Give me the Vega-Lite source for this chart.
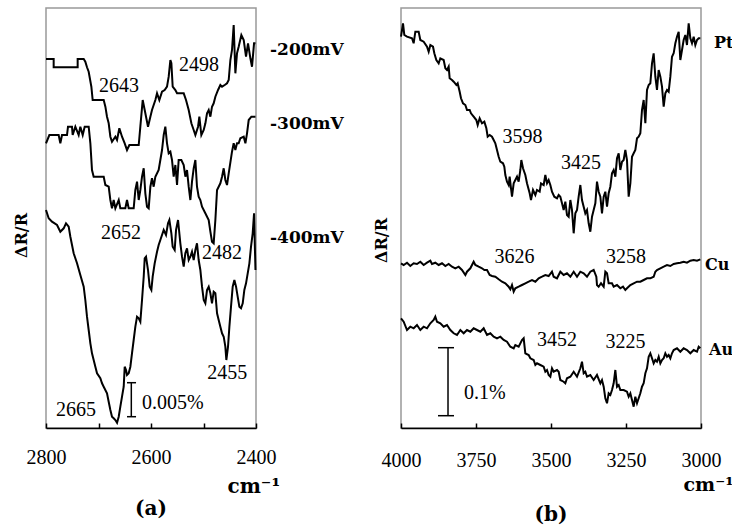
{
"$schema":"https://vega.github.io/schema/vega-lite/v6.json",
"background":"white",
"padding":{"left":12,"top":7,"right":0,"bottom":0},
"bounds":"flush",
"spacing":145,
"config":{"view":{"stroke":"#999999","strokeWidth":1.5},"font":"Liberation Serif","axis":{"labelFont":"Liberation Serif","titleFont":"DejaVu Serif","labelColor":"black","titleColor":"black","grid":false},"title":{"font":"DejaVu Serif","color":"black"},"text":{"font":"Liberation Serif","color":"black"}},
"datasets":{
"traceA":[
{"s":"-200mV","wn":2800,"h":369},{"s":"-200mV","wn":2785.4,"h":369},{"s":"-200mV","wn":2785.4,"h":360.7},{"s":"-200mV","wn":2739.7,"h":360.7},{"s":"-200mV","wn":2739.7,"h":369},{"s":"-200mV","wn":2728.2,"h":369},{"s":"-200mV","wn":2725.1,"h":366.3},{"s":"-200mV","wn":2721.9,"h":360.7},{"s":"-200mV","wn":2718.7,"h":356.3},{"s":"-200mV","wn":2713.6,"h":341.3},{"s":"-200mV","wn":2711.1,"h":328},{"s":"-200mV","wn":2690.1,"h":328},{"s":"-200mV","wn":2686.9,"h":321.3},{"s":"-200mV","wn":2683.8,"h":311.3},{"s":"-200mV","wn":2680.6,"h":304.7},{"s":"-200mV","wn":2677.4,"h":291.3},{"s":"-200mV","wn":2674.3,"h":286.3},{"s":"-200mV","wn":2667.9,"h":291.3},{"s":"-200mV","wn":2664.7,"h":288},{"s":"-200mV","wn":2660.3,"h":299.7},{"s":"-200mV","wn":2655.2,"h":291.3},{"s":"-200mV","wn":2650.1,"h":284.7},{"s":"-200mV","wn":2645.7,"h":278},{"s":"-200mV","wn":2641.2,"h":283},{"s":"-200mV","wn":2623.4,"h":283},{"s":"-200mV","wn":2620.3,"h":301.3},{"s":"-200mV","wn":2615.8,"h":328},{"s":"-200mV","wn":2612,"h":318},{"s":"-200mV","wn":2605.7,"h":301.3},{"s":"-200mV","wn":2601.2,"h":311.3},{"s":"-200mV","wn":2598.1,"h":318},{"s":"-200mV","wn":2591.7,"h":328},{"s":"-200mV","wn":2588.5,"h":334.7},{"s":"-200mV","wn":2584.1,"h":328},{"s":"-200mV","wn":2579,"h":336.3},{"s":"-200mV","wn":2574,"h":338},{"s":"-200mV","wn":2569.5,"h":341.3},{"s":"-200mV","wn":2566.3,"h":351.3},{"s":"-200mV","wn":2563.1,"h":368},{"s":"-200mV","wn":2561.2,"h":364.7},{"s":"-200mV","wn":2558.7,"h":341.3},{"s":"-200mV","wn":2553.6,"h":338},{"s":"-200mV","wn":2550.4,"h":334.7},{"s":"-200mV","wn":2537.7,"h":334.7},{"s":"-200mV","wn":2533.3,"h":328},{"s":"-200mV","wn":2528.2,"h":318},{"s":"-200mV","wn":2523.1,"h":304.7},{"s":"-200mV","wn":2518.7,"h":298},{"s":"-200mV","wn":2515.5,"h":293},{"s":"-200mV","wn":2510.4,"h":301.3},{"s":"-200mV","wn":2507.9,"h":311.3},{"s":"-200mV","wn":2504.1,"h":293},{"s":"-200mV","wn":2499.6,"h":298},{"s":"-200mV","wn":2496.4,"h":304.7},{"s":"-200mV","wn":2493.3,"h":314.7},{"s":"-200mV","wn":2490.1,"h":318},{"s":"-200mV","wn":2486.9,"h":311.3},{"s":"-200mV","wn":2483.8,"h":321.3},{"s":"-200mV","wn":2480.6,"h":324.7},{"s":"-200mV","wn":2477.4,"h":331.3},{"s":"-200mV","wn":2472.3,"h":338},{"s":"-200mV","wn":2467.9,"h":343},{"s":"-200mV","wn":2464.7,"h":341.3},{"s":"-200mV","wn":2459.6,"h":343},{"s":"-200mV","wn":2455.2,"h":344.7},{"s":"-200mV","wn":2452,"h":348},{"s":"-200mV","wn":2448.8,"h":368},{"s":"-200mV","wn":2445.7,"h":378},{"s":"-200mV","wn":2442.5,"h":403},{"s":"-200mV","wn":2439.3,"h":354.7},{"s":"-200mV","wn":2436.2,"h":374.7},{"s":"-200mV","wn":2433,"h":381.3},{"s":"-200mV","wn":2427.9,"h":393},{"s":"-200mV","wn":2423.4,"h":388},{"s":"-200mV","wn":2419,"h":371.3},{"s":"-200mV","wn":2415.2,"h":384.7},{"s":"-200mV","wn":2410.7,"h":369.7},{"s":"-200mV","wn":2407.6,"h":361.3},{"s":"-200mV","wn":2403.7,"h":384.7},{"s":"-200mV","wn":2401,"h":384.7},
{"s":"-300mV","wn":2800,"h":284.7},{"s":"-300mV","wn":2793.6,"h":293},{"s":"-300mV","wn":2775.9,"h":293},{"s":"-300mV","wn":2772.7,"h":284.7},{"s":"-300mV","wn":2769.5,"h":293},{"s":"-300mV","wn":2760,"h":293},{"s":"-300mV","wn":2758.1,"h":301.3},{"s":"-300mV","wn":2750.5,"h":301.3},{"s":"-300mV","wn":2749.2,"h":293},{"s":"-300mV","wn":2744.1,"h":301.3},{"s":"-300mV","wn":2737.8,"h":293},{"s":"-300mV","wn":2734.6,"h":301.3},{"s":"-300mV","wn":2730.1,"h":293},{"s":"-300mV","wn":2726.3,"h":301.3},{"s":"-300mV","wn":2718.7,"h":301.3},{"s":"-300mV","wn":2715.5,"h":284.7},{"s":"-300mV","wn":2712.4,"h":258},{"s":"-300mV","wn":2709.2,"h":251.3},{"s":"-300mV","wn":2690.1,"h":251.3},{"s":"-300mV","wn":2686.9,"h":243},{"s":"-300mV","wn":2680.6,"h":241.3},{"s":"-300mV","wn":2677.4,"h":228},{"s":"-300mV","wn":2674.3,"h":219.7},{"s":"-300mV","wn":2671.1,"h":228},{"s":"-300mV","wn":2667.9,"h":219.7},{"s":"-300mV","wn":2661.5,"h":228},{"s":"-300mV","wn":2658.4,"h":219.7},{"s":"-300mV","wn":2648.9,"h":219.7},{"s":"-300mV","wn":2645.7,"h":228},{"s":"-300mV","wn":2642.5,"h":219.7},{"s":"-300mV","wn":2633,"h":219.7},{"s":"-300mV","wn":2629.8,"h":238},{"s":"-300mV","wn":2626.6,"h":246.3},{"s":"-300mV","wn":2623.4,"h":228},{"s":"-300mV","wn":2620.3,"h":238},{"s":"-300mV","wn":2617.1,"h":251.3},{"s":"-300mV","wn":2613.9,"h":259.7},{"s":"-300mV","wn":2610.8,"h":234.7},{"s":"-300mV","wn":2607.6,"h":221.3},{"s":"-300mV","wn":2604.4,"h":219.7},{"s":"-300mV","wn":2601.2,"h":241.3},{"s":"-300mV","wn":2598.1,"h":249.7},{"s":"-300mV","wn":2594.9,"h":241.3},{"s":"-300mV","wn":2591.7,"h":251.3},{"s":"-300mV","wn":2585.4,"h":258},{"s":"-300mV","wn":2582.2,"h":268},{"s":"-300mV","wn":2579,"h":278},{"s":"-300mV","wn":2575.8,"h":293},{"s":"-300mV","wn":2572.7,"h":301.3},{"s":"-300mV","wn":2569.5,"h":284.7},{"s":"-300mV","wn":2566.3,"h":274.7},{"s":"-300mV","wn":2563.1,"h":276.3},{"s":"-300mV","wn":2560,"h":268},{"s":"-300mV","wn":2556.8,"h":251.3},{"s":"-300mV","wn":2553.6,"h":263},{"s":"-300mV","wn":2550.4,"h":243},{"s":"-300mV","wn":2547.3,"h":268},{"s":"-300mV","wn":2542.2,"h":268},{"s":"-300mV","wn":2537.7,"h":263},{"s":"-300mV","wn":2534.5,"h":251.3},{"s":"-300mV","wn":2531.4,"h":258},{"s":"-300mV","wn":2528.2,"h":241.3},{"s":"-300mV","wn":2525,"h":228},{"s":"-300mV","wn":2521.9,"h":246.3},{"s":"-300mV","wn":2518.7,"h":259.7},{"s":"-300mV","wn":2515.5,"h":268},{"s":"-300mV","wn":2512.4,"h":241.3},{"s":"-300mV","wn":2509.2,"h":231.3},{"s":"-300mV","wn":2506,"h":228},{"s":"-300mV","wn":2502.8,"h":221.3},{"s":"-300mV","wn":2496.5,"h":214.7},{"s":"-300mV","wn":2490.1,"h":208},{"s":"-300mV","wn":2486.9,"h":196.3},{"s":"-300mV","wn":2483.8,"h":186.3},{"s":"-300mV","wn":2480.6,"h":184.7},{"s":"-300mV","wn":2477.4,"h":208},{"s":"-300mV","wn":2474.2,"h":238},{"s":"-300mV","wn":2471.1,"h":241.3},{"s":"-300mV","wn":2467.9,"h":244.7},{"s":"-300mV","wn":2464.7,"h":251.3},{"s":"-300mV","wn":2461.5,"h":259.7},{"s":"-300mV","wn":2458.4,"h":248},{"s":"-300mV","wn":2455.2,"h":243},{"s":"-300mV","wn":2452,"h":254.7},{"s":"-300mV","wn":2445.7,"h":276.3},{"s":"-300mV","wn":2442.5,"h":284.7},{"s":"-300mV","wn":2439.3,"h":278},{"s":"-300mV","wn":2436.2,"h":284.7},{"s":"-300mV","wn":2433,"h":284.7},{"s":"-300mV","wn":2429.8,"h":289.7},{"s":"-300mV","wn":2423.4,"h":291.3},{"s":"-300mV","wn":2420.2,"h":284.7},{"s":"-300mV","wn":2417.1,"h":294.7},{"s":"-300mV","wn":2413.9,"h":308},{"s":"-300mV","wn":2408.8,"h":311.3},{"s":"-300mV","wn":2401,"h":311.3},
{"s":"-400mV","wn":2800,"h":218},{"s":"-400mV","wn":2794.9,"h":209.7},{"s":"-400mV","wn":2788.6,"h":206.3},{"s":"-400mV","wn":2779,"h":203},{"s":"-400mV","wn":2772.7,"h":196.3},{"s":"-400mV","wn":2766.3,"h":199.7},{"s":"-400mV","wn":2761.9,"h":204.7},{"s":"-400mV","wn":2756.8,"h":201.3},{"s":"-400mV","wn":2753.6,"h":191.3},{"s":"-400mV","wn":2747.3,"h":174.7},{"s":"-400mV","wn":2740.9,"h":164.7},{"s":"-400mV","wn":2734.6,"h":153},{"s":"-400mV","wn":2728.2,"h":141.3},{"s":"-400mV","wn":2725.1,"h":128},{"s":"-400mV","wn":2721.9,"h":111.3},{"s":"-400mV","wn":2718.7,"h":98},{"s":"-400mV","wn":2715.5,"h":84.7},{"s":"-400mV","wn":2712.4,"h":74.7},{"s":"-400mV","wn":2709.2,"h":68},{"s":"-400mV","wn":2706,"h":61.3},{"s":"-400mV","wn":2702.8,"h":54.7},{"s":"-400mV","wn":2696.5,"h":49.7},{"s":"-400mV","wn":2693.3,"h":44.7},{"s":"-400mV","wn":2690.1,"h":41.3},{"s":"-400mV","wn":2683.8,"h":34.7},{"s":"-400mV","wn":2680.6,"h":26.3},{"s":"-400mV","wn":2677.4,"h":18},{"s":"-400mV","wn":2674.3,"h":11.3},{"s":"-400mV","wn":2671.1,"h":9.7},{"s":"-400mV","wn":2667.9,"h":8},{"s":"-400mV","wn":2664.7,"h":5.3},{"s":"-400mV","wn":2661.5,"h":11.3},{"s":"-400mV","wn":2658.4,"h":21.3},{"s":"-400mV","wn":2655.2,"h":31.3},{"s":"-400mV","wn":2652,"h":41.3},{"s":"-400mV","wn":2650.1,"h":61.3},{"s":"-400mV","wn":2647.6,"h":58},{"s":"-400mV","wn":2645.7,"h":53},{"s":"-400mV","wn":2642.5,"h":54.7},{"s":"-400mV","wn":2639.3,"h":61.3},{"s":"-400mV","wn":2636.2,"h":74.7},{"s":"-400mV","wn":2633,"h":88},{"s":"-400mV","wn":2629.8,"h":101.3},{"s":"-400mV","wn":2626.6,"h":111.3},{"s":"-400mV","wn":2623.4,"h":109.7},{"s":"-400mV","wn":2620.3,"h":106.3},{"s":"-400mV","wn":2617.1,"h":128},{"s":"-400mV","wn":2613.9,"h":151.3},{"s":"-400mV","wn":2612,"h":169.7},{"s":"-400mV","wn":2609.5,"h":171.3},{"s":"-400mV","wn":2605.7,"h":158},{"s":"-400mV","wn":2602.5,"h":141.3},{"s":"-400mV","wn":2599.3,"h":138},{"s":"-400mV","wn":2596.8,"h":151.3},{"s":"-400mV","wn":2593,"h":164.7},{"s":"-400mV","wn":2588.5,"h":176.3},{"s":"-400mV","wn":2585.4,"h":183},{"s":"-400mV","wn":2582.2,"h":188},{"s":"-400mV","wn":2575.8,"h":198},{"s":"-400mV","wn":2571.4,"h":193},{"s":"-400mV","wn":2567.6,"h":204.7},{"s":"-400mV","wn":2565,"h":208},{"s":"-400mV","wn":2561.2,"h":194.7},{"s":"-400mV","wn":2558.7,"h":181.3},{"s":"-400mV","wn":2554.9,"h":178},{"s":"-400mV","wn":2552.3,"h":198},{"s":"-400mV","wn":2548.5,"h":208},{"s":"-400mV","wn":2544.1,"h":184.7},{"s":"-400mV","wn":2540.9,"h":171.3},{"s":"-400mV","wn":2537.7,"h":161.3},{"s":"-400mV","wn":2534.6,"h":174.7},{"s":"-400mV","wn":2531.4,"h":179.7},{"s":"-400mV","wn":2528.2,"h":168},{"s":"-400mV","wn":2525,"h":171.3},{"s":"-400mV","wn":2521.9,"h":176.3},{"s":"-400mV","wn":2518.7,"h":168},{"s":"-400mV","wn":2515.5,"h":178},{"s":"-400mV","wn":2512.4,"h":184.7},{"s":"-400mV","wn":2509.2,"h":168},{"s":"-400mV","wn":2506,"h":158},{"s":"-400mV","wn":2502.8,"h":141.3},{"s":"-400mV","wn":2499.6,"h":128},{"s":"-400mV","wn":2496.5,"h":124.7},{"s":"-400mV","wn":2493.3,"h":138},{"s":"-400mV","wn":2490.1,"h":141.3},{"s":"-400mV","wn":2486.9,"h":134.7},{"s":"-400mV","wn":2483.8,"h":124.7},{"s":"-400mV","wn":2480.6,"h":136.3},{"s":"-400mV","wn":2477.4,"h":134.7},{"s":"-400mV","wn":2474.2,"h":114.7},{"s":"-400mV","wn":2471.1,"h":108},{"s":"-400mV","wn":2467.9,"h":101.3},{"s":"-400mV","wn":2464.7,"h":94.7},{"s":"-400mV","wn":2461.5,"h":91.3},{"s":"-400mV","wn":2458.4,"h":81.3},{"s":"-400mV","wn":2456.5,"h":68},{"s":"-400mV","wn":2453.3,"h":81.3},{"s":"-400mV","wn":2450.7,"h":101.3},{"s":"-400mV","wn":2447.6,"h":121.3},{"s":"-400mV","wn":2444.4,"h":141.3},{"s":"-400mV","wn":2441.2,"h":148},{"s":"-400mV","wn":2438,"h":141.3},{"s":"-400mV","wn":2434.9,"h":131.3},{"s":"-400mV","wn":2431.7,"h":121.3},{"s":"-400mV","wn":2428.5,"h":119.7},{"s":"-400mV","wn":2425.3,"h":124.7},{"s":"-400mV","wn":2422.2,"h":138},{"s":"-400mV","wn":2419,"h":144.7},{"s":"-400mV","wn":2415.8,"h":154.7},{"s":"-400mV","wn":2412.6,"h":164.7},{"s":"-400mV","wn":2409.5,"h":181.3},{"s":"-400mV","wn":2406.3,"h":194.7},{"s":"-400mV","wn":2403.7,"h":214.7},{"s":"-400mV","wn":2402.5,"h":188},{"s":"-400mV","wn":2401,"h":158}
],
"numA":[{"wn":2661,"h":342,"t":"2643"},{"wn":2508.5,"h":363,"t":"2498"},{"wn":2657,"h":195,"t":"2652"},{"wn":2464.7,"h":175,"t":"2482"},{"wn":2455,"h":55,"t":"2455"},{"wn":2743,"h":18,"t":"2665"}],
"pctA":[{"wn":2617,"h":25,"t":"0.005%"}],
"labA":[{"wn":2373.3,"h":378,"t":"-200mV"},{"wn":2373.3,"h":304,"t":"-300mV"},{"wn":2373.3,"h":190,"t":"-400mV"}],
"barA":[{"wn":2637.5,"h":11.3,"h2":45.3}],
"capA":[{"wn":2645.7,"wn2":2628.5,"h":11.3},{"wn":2645.7,"wn2":2628.5,"h":45.3}],
"traceB":[
{"s":"Pt","wn":4000,"h":391.3},{"s":"Pt","wn":3993.3,"h":404.7},{"s":"Pt","wn":3988.9,"h":393},{"s":"Pt","wn":3980,"h":391.3},{"s":"Pt","wn":3963.3,"h":389.7},{"s":"Pt","wn":3957.8,"h":384.7},{"s":"Pt","wn":3952.2,"h":396.3},{"s":"Pt","wn":3941.1,"h":396.3},{"s":"Pt","wn":3935.6,"h":388},{"s":"Pt","wn":3924.4,"h":386.3},{"s":"Pt","wn":3913.3,"h":381.3},{"s":"Pt","wn":3907.8,"h":376.3},{"s":"Pt","wn":3902.2,"h":383},{"s":"Pt","wn":3893.3,"h":381.3},{"s":"Pt","wn":3888.9,"h":374.7},{"s":"Pt","wn":3882.2,"h":368},{"s":"Pt","wn":3874.4,"h":364.7},{"s":"Pt","wn":3868.9,"h":369.7},{"s":"Pt","wn":3857.8,"h":368},{"s":"Pt","wn":3852.2,"h":359.7},{"s":"Pt","wn":3846.7,"h":358},{"s":"Pt","wn":3841.1,"h":361.3},{"s":"Pt","wn":3837.8,"h":349.7},{"s":"Pt","wn":3830,"h":348},{"s":"Pt","wn":3824.4,"h":346.3},{"s":"Pt","wn":3815.5,"h":343},{"s":"Pt","wn":3811.1,"h":344.7},{"s":"Pt","wn":3804.4,"h":336.3},{"s":"Pt","wn":3800,"h":329.7},{"s":"Pt","wn":3793.3,"h":324.7},{"s":"Pt","wn":3785.5,"h":323},{"s":"Pt","wn":3780,"h":318},{"s":"Pt","wn":3771.1,"h":318},{"s":"Pt","wn":3766.7,"h":314.7},{"s":"Pt","wn":3757.8,"h":311.3},{"s":"Pt","wn":3748.9,"h":308},{"s":"Pt","wn":3744.4,"h":303},{"s":"Pt","wn":3737.8,"h":309.7},{"s":"Pt","wn":3730,"h":304.7},{"s":"Pt","wn":3722.2,"h":306.3},{"s":"Pt","wn":3715.5,"h":299.7},{"s":"Pt","wn":3711.1,"h":291.3},{"s":"Pt","wn":3704.4,"h":293},{"s":"Pt","wn":3696.7,"h":291.3},{"s":"Pt","wn":3691.1,"h":288},{"s":"Pt","wn":3685.6,"h":284.7},{"s":"Pt","wn":3680,"h":278},{"s":"Pt","wn":3674.4,"h":271.3},{"s":"Pt","wn":3668.9,"h":266.3},{"s":"Pt","wn":3660,"h":264.7},{"s":"Pt","wn":3655.6,"h":261.3},{"s":"Pt","wn":3652.2,"h":253},{"s":"Pt","wn":3646.7,"h":246.3},{"s":"Pt","wn":3641.1,"h":243},{"s":"Pt","wn":3637.8,"h":251.3},{"s":"Pt","wn":3633.3,"h":239.7},{"s":"Pt","wn":3630,"h":231.3},{"s":"Pt","wn":3624.4,"h":244.7},{"s":"Pt","wn":3618.9,"h":248},{"s":"Pt","wn":3613.3,"h":251.3},{"s":"Pt","wn":3607.8,"h":246.3},{"s":"Pt","wn":3602.2,"h":258},{"s":"Pt","wn":3598.9,"h":268},{"s":"Pt","wn":3593.3,"h":259.7},{"s":"Pt","wn":3585.6,"h":253},{"s":"Pt","wn":3580,"h":244.7},{"s":"Pt","wn":3571.1,"h":234.7},{"s":"Pt","wn":3566.7,"h":228},{"s":"Pt","wn":3560,"h":238},{"s":"Pt","wn":3552.2,"h":233},{"s":"Pt","wn":3546.7,"h":238},{"s":"Pt","wn":3537.8,"h":236.3},{"s":"Pt","wn":3533.3,"h":244.7},{"s":"Pt","wn":3524.4,"h":243},{"s":"Pt","wn":3518.9,"h":253},{"s":"Pt","wn":3513.3,"h":244.7},{"s":"Pt","wn":3507.8,"h":248},{"s":"Pt","wn":3502.2,"h":243},{"s":"Pt","wn":3496.7,"h":236.3},{"s":"Pt","wn":3488.9,"h":231.3},{"s":"Pt","wn":3480,"h":229.7},{"s":"Pt","wn":3474.4,"h":233},{"s":"Pt","wn":3468.9,"h":231.3},{"s":"Pt","wn":3463.3,"h":224.7},{"s":"Pt","wn":3457.8,"h":218},{"s":"Pt","wn":3452.2,"h":226.3},{"s":"Pt","wn":3446.7,"h":213},{"s":"Pt","wn":3441.1,"h":211.3},{"s":"Pt","wn":3435.5,"h":228},{"s":"Pt","wn":3430,"h":218},{"s":"Pt","wn":3424.4,"h":194.7},{"s":"Pt","wn":3418.9,"h":214.7},{"s":"Pt","wn":3413.3,"h":218},{"s":"Pt","wn":3407.8,"h":231.3},{"s":"Pt","wn":3402.2,"h":243},{"s":"Pt","wn":3396.7,"h":228},{"s":"Pt","wn":3391.1,"h":221.3},{"s":"Pt","wn":3385.6,"h":214.7},{"s":"Pt","wn":3380,"h":218},{"s":"Pt","wn":3374.4,"h":204.7},{"s":"Pt","wn":3368.9,"h":196.3},{"s":"Pt","wn":3363.3,"h":211.3},{"s":"Pt","wn":3357.8,"h":218},{"s":"Pt","wn":3352.2,"h":224.7},{"s":"Pt","wn":3346.7,"h":246.3},{"s":"Pt","wn":3341.1,"h":236.3},{"s":"Pt","wn":3335.5,"h":231.3},{"s":"Pt","wn":3330,"h":214.7},{"s":"Pt","wn":3324.4,"h":231.3},{"s":"Pt","wn":3318.9,"h":236.3},{"s":"Pt","wn":3313.3,"h":221.3},{"s":"Pt","wn":3307.8,"h":234.7},{"s":"Pt","wn":3302.2,"h":241.3},{"s":"Pt","wn":3296.7,"h":254.7},{"s":"Pt","wn":3291.1,"h":258},{"s":"Pt","wn":3285.5,"h":251.3},{"s":"Pt","wn":3280,"h":269.7},{"s":"Pt","wn":3274.4,"h":274.7},{"s":"Pt","wn":3268.9,"h":258},{"s":"Pt","wn":3263.3,"h":266.3},{"s":"Pt","wn":3257.8,"h":268},{"s":"Pt","wn":3252.2,"h":278},{"s":"Pt","wn":3246.7,"h":268},{"s":"Pt","wn":3241.1,"h":231.3},{"s":"Pt","wn":3235.5,"h":244.7},{"s":"Pt","wn":3230,"h":271.3},{"s":"Pt","wn":3224.4,"h":274.7},{"s":"Pt","wn":3218.9,"h":278},{"s":"Pt","wn":3213.3,"h":289.7},{"s":"Pt","wn":3207.8,"h":291.3},{"s":"Pt","wn":3202.2,"h":294.7},{"s":"Pt","wn":3196.7,"h":318},{"s":"Pt","wn":3191.1,"h":328},{"s":"Pt","wn":3185.5,"h":304.7},{"s":"Pt","wn":3180,"h":338},{"s":"Pt","wn":3174.4,"h":343},{"s":"Pt","wn":3168.9,"h":344.7},{"s":"Pt","wn":3163.3,"h":364.7},{"s":"Pt","wn":3157.8,"h":374.7},{"s":"Pt","wn":3152.2,"h":351.3},{"s":"Pt","wn":3146.7,"h":338},{"s":"Pt","wn":3141.1,"h":358},{"s":"Pt","wn":3135.5,"h":351.3},{"s":"Pt","wn":3130,"h":341.3},{"s":"Pt","wn":3124.4,"h":321.3},{"s":"Pt","wn":3118.9,"h":334.7},{"s":"Pt","wn":3113.3,"h":338},{"s":"Pt","wn":3107.8,"h":336.3},{"s":"Pt","wn":3102.2,"h":351.3},{"s":"Pt","wn":3096.7,"h":371.3},{"s":"Pt","wn":3091.1,"h":374.7},{"s":"Pt","wn":3085.5,"h":384.7},{"s":"Pt","wn":3080,"h":391.3},{"s":"Pt","wn":3074.4,"h":396.3},{"s":"Pt","wn":3068.9,"h":368},{"s":"Pt","wn":3063.3,"h":378},{"s":"Pt","wn":3057.8,"h":388},{"s":"Pt","wn":3052.2,"h":393},{"s":"Pt","wn":3046.7,"h":383},{"s":"Pt","wn":3041.1,"h":404.7},{"s":"Pt","wn":3035.5,"h":389.7},{"s":"Pt","wn":3030,"h":384.7},{"s":"Pt","wn":3024.4,"h":391.3},{"s":"Pt","wn":3018.9,"h":383},{"s":"Pt","wn":3013.3,"h":388},{"s":"Pt","wn":3007.8,"h":389.7},{"s":"Pt","wn":3002.2,"h":389.7},
{"s":"Cu","wn":4000,"h":164.7},{"s":"Cu","wn":3991.1,"h":163},{"s":"Cu","wn":3980,"h":165.3},{"s":"Cu","wn":3968.9,"h":162},{"s":"Cu","wn":3957.8,"h":164.7},{"s":"Cu","wn":3946.7,"h":164},{"s":"Cu","wn":3935.6,"h":166.3},{"s":"Cu","wn":3924.4,"h":163},{"s":"Cu","wn":3913.3,"h":165.3},{"s":"Cu","wn":3902.2,"h":167.3},{"s":"Cu","wn":3896.7,"h":164},{"s":"Cu","wn":3885.6,"h":165.3},{"s":"Cu","wn":3874.4,"h":163},{"s":"Cu","wn":3863.3,"h":164.7},{"s":"Cu","wn":3852.2,"h":162},{"s":"Cu","wn":3841.1,"h":164},{"s":"Cu","wn":3830,"h":161.3},{"s":"Cu","wn":3818.9,"h":159.7},{"s":"Cu","wn":3807.8,"h":161.3},{"s":"Cu","wn":3796.7,"h":158},{"s":"Cu","wn":3785.5,"h":153},{"s":"Cu","wn":3780,"h":156.3},{"s":"Cu","wn":3768.9,"h":159.7},{"s":"Cu","wn":3757.8,"h":166.3},{"s":"Cu","wn":3752.2,"h":163},{"s":"Cu","wn":3741.1,"h":161.3},{"s":"Cu","wn":3730,"h":159.7},{"s":"Cu","wn":3722.2,"h":158},{"s":"Cu","wn":3713.3,"h":158},{"s":"Cu","wn":3704.4,"h":153},{"s":"Cu","wn":3696.7,"h":152},{"s":"Cu","wn":3685.6,"h":151.3},{"s":"Cu","wn":3674.4,"h":148.7},{"s":"Cu","wn":3663.3,"h":146.3},{"s":"Cu","wn":3652.2,"h":144.7},{"s":"Cu","wn":3641.1,"h":141.3},{"s":"Cu","wn":3635.6,"h":138.7},{"s":"Cu","wn":3630,"h":143},{"s":"Cu","wn":3624.4,"h":136.3},{"s":"Cu","wn":3618.9,"h":139.7},{"s":"Cu","wn":3607.8,"h":141.3},{"s":"Cu","wn":3596.7,"h":143},{"s":"Cu","wn":3585.6,"h":144.7},{"s":"Cu","wn":3574.4,"h":146.3},{"s":"Cu","wn":3563.3,"h":148},{"s":"Cu","wn":3552.2,"h":146.3},{"s":"Cu","wn":3541.1,"h":149.7},{"s":"Cu","wn":3530,"h":151.3},{"s":"Cu","wn":3518.9,"h":153},{"s":"Cu","wn":3507.8,"h":152},{"s":"Cu","wn":3496.7,"h":156.3},{"s":"Cu","wn":3491.1,"h":151.3},{"s":"Cu","wn":3480,"h":149.7},{"s":"Cu","wn":3468.9,"h":156.3},{"s":"Cu","wn":3457.8,"h":153},{"s":"Cu","wn":3446.7,"h":154.7},{"s":"Cu","wn":3435.5,"h":151.3},{"s":"Cu","wn":3424.4,"h":156.3},{"s":"Cu","wn":3413.3,"h":151.3},{"s":"Cu","wn":3402.2,"h":156.3},{"s":"Cu","wn":3391.1,"h":154.7},{"s":"Cu","wn":3380,"h":151.3},{"s":"Cu","wn":3368.9,"h":156.3},{"s":"Cu","wn":3357.8,"h":158},{"s":"Cu","wn":3348.9,"h":151.3},{"s":"Cu","wn":3346.7,"h":143},{"s":"Cu","wn":3341.1,"h":141.3},{"s":"Cu","wn":3333.3,"h":144.7},{"s":"Cu","wn":3324.4,"h":141.3},{"s":"Cu","wn":3318.9,"h":156.3},{"s":"Cu","wn":3313.3,"h":154.7},{"s":"Cu","wn":3307.8,"h":144.7},{"s":"Cu","wn":3296.7,"h":144.7},{"s":"Cu","wn":3291.1,"h":141.3},{"s":"Cu","wn":3280,"h":143},{"s":"Cu","wn":3268.9,"h":139.7},{"s":"Cu","wn":3260,"h":141.3},{"s":"Cu","wn":3252.2,"h":138},{"s":"Cu","wn":3246.7,"h":139.7},{"s":"Cu","wn":3235.5,"h":143},{"s":"Cu","wn":3224.4,"h":144.7},{"s":"Cu","wn":3213.3,"h":146.3},{"s":"Cu","wn":3202.2,"h":146.3},{"s":"Cu","wn":3191.1,"h":148},{"s":"Cu","wn":3180,"h":149.7},{"s":"Cu","wn":3168.9,"h":149.7},{"s":"Cu","wn":3157.8,"h":151.3},{"s":"Cu","wn":3152.2,"h":156.3},{"s":"Cu","wn":3146.7,"h":158},{"s":"Cu","wn":3135.5,"h":159.7},{"s":"Cu","wn":3124.4,"h":161.3},{"s":"Cu","wn":3113.3,"h":163},{"s":"Cu","wn":3102.2,"h":162},{"s":"Cu","wn":3091.1,"h":164},{"s":"Cu","wn":3080,"h":164.7},{"s":"Cu","wn":3068.9,"h":165.3},{"s":"Cu","wn":3057.8,"h":166.3},{"s":"Cu","wn":3046.7,"h":165.3},{"s":"Cu","wn":3035.5,"h":167.3},{"s":"Cu","wn":3024.4,"h":168},{"s":"Cu","wn":3013.3,"h":167.3},{"s":"Cu","wn":3002.2,"h":168.7},
{"s":"Au","wn":4000,"h":109.7},{"s":"Au","wn":3991.1,"h":106.3},{"s":"Au","wn":3980,"h":98},{"s":"Au","wn":3968.9,"h":101.3},{"s":"Au","wn":3957.8,"h":99.7},{"s":"Au","wn":3946.7,"h":103},{"s":"Au","wn":3935.6,"h":98},{"s":"Au","wn":3924.4,"h":101.3},{"s":"Au","wn":3913.3,"h":99.7},{"s":"Au","wn":3902.2,"h":104.7},{"s":"Au","wn":3891.1,"h":108},{"s":"Au","wn":3885.6,"h":111.3},{"s":"Au","wn":3880,"h":106.3},{"s":"Au","wn":3868.9,"h":104.7},{"s":"Au","wn":3857.8,"h":101.3},{"s":"Au","wn":3846.7,"h":103},{"s":"Au","wn":3835.5,"h":98},{"s":"Au","wn":3824.4,"h":94.7},{"s":"Au","wn":3813.3,"h":93},{"s":"Au","wn":3802.2,"h":98},{"s":"Au","wn":3791.1,"h":94.7},{"s":"Au","wn":3780,"h":98},{"s":"Au","wn":3768.9,"h":96.3},{"s":"Au","wn":3757.8,"h":99.7},{"s":"Au","wn":3746.7,"h":98},{"s":"Au","wn":3735.5,"h":96.3},{"s":"Au","wn":3724.4,"h":99.7},{"s":"Au","wn":3713.3,"h":93},{"s":"Au","wn":3702.2,"h":94.7},{"s":"Au","wn":3691.1,"h":91.3},{"s":"Au","wn":3680,"h":89.7},{"s":"Au","wn":3668.9,"h":91.3},{"s":"Au","wn":3657.8,"h":88},{"s":"Au","wn":3646.7,"h":86.3},{"s":"Au","wn":3635.5,"h":81.3},{"s":"Au","wn":3624.4,"h":79.7},{"s":"Au","wn":3618.9,"h":83},{"s":"Au","wn":3607.8,"h":81.3},{"s":"Au","wn":3596.7,"h":88},{"s":"Au","wn":3591.1,"h":89.7},{"s":"Au","wn":3585.6,"h":74.7},{"s":"Au","wn":3574.4,"h":73},{"s":"Au","wn":3568.9,"h":69.7},{"s":"Au","wn":3557.8,"h":68},{"s":"Au","wn":3552.2,"h":63},{"s":"Au","wn":3546.7,"h":64.7},{"s":"Au","wn":3535.5,"h":63},{"s":"Au","wn":3524.4,"h":61.3},{"s":"Au","wn":3518.9,"h":56.3},{"s":"Au","wn":3513.3,"h":58},{"s":"Au","wn":3507.8,"h":53},{"s":"Au","wn":3502.2,"h":51.3},{"s":"Au","wn":3496.7,"h":59.7},{"s":"Au","wn":3491.1,"h":56.3},{"s":"Au","wn":3480,"h":58},{"s":"Au","wn":3474.4,"h":56.3},{"s":"Au","wn":3468.9,"h":48},{"s":"Au","wn":3457.8,"h":46.3},{"s":"Au","wn":3452.2,"h":44.7},{"s":"Au","wn":3446.7,"h":49.7},{"s":"Au","wn":3435.5,"h":51.3},{"s":"Au","wn":3424.4,"h":56.3},{"s":"Au","wn":3413.3,"h":51.3},{"s":"Au","wn":3402.2,"h":59.7},{"s":"Au","wn":3396.7,"h":66.3},{"s":"Au","wn":3391.1,"h":54.7},{"s":"Au","wn":3385.5,"h":56.3},{"s":"Au","wn":3380,"h":51.3},{"s":"Au","wn":3368.9,"h":53},{"s":"Au","wn":3357.8,"h":48},{"s":"Au","wn":3346.7,"h":53},{"s":"Au","wn":3335.5,"h":44.7},{"s":"Au","wn":3330,"h":48},{"s":"Au","wn":3324.4,"h":41.3},{"s":"Au","wn":3318.9,"h":29.7},{"s":"Au","wn":3313.3,"h":24.7},{"s":"Au","wn":3307.8,"h":34.7},{"s":"Au","wn":3302.2,"h":33},{"s":"Au","wn":3296.7,"h":38},{"s":"Au","wn":3291.1,"h":44.7},{"s":"Au","wn":3285.5,"h":58},{"s":"Au","wn":3280,"h":41.3},{"s":"Au","wn":3274.4,"h":43},{"s":"Au","wn":3268.9,"h":38},{"s":"Au","wn":3257.8,"h":38},{"s":"Au","wn":3246.7,"h":36.3},{"s":"Au","wn":3241.1,"h":31.3},{"s":"Au","wn":3235.5,"h":34.7},{"s":"Au","wn":3230,"h":28},{"s":"Au","wn":3224.4,"h":21.3},{"s":"Au","wn":3218.9,"h":31.3},{"s":"Au","wn":3213.3,"h":24.7},{"s":"Au","wn":3207.8,"h":29.7},{"s":"Au","wn":3202.2,"h":34.7},{"s":"Au","wn":3196.7,"h":41.3},{"s":"Au","wn":3191.1,"h":44.7},{"s":"Au","wn":3185.5,"h":54.7},{"s":"Au","wn":3180,"h":59.7},{"s":"Au","wn":3174.4,"h":71.3},{"s":"Au","wn":3168.9,"h":74.7},{"s":"Au","wn":3163.3,"h":69.7},{"s":"Au","wn":3157.8,"h":64.7},{"s":"Au","wn":3152.2,"h":68},{"s":"Au","wn":3146.7,"h":66.3},{"s":"Au","wn":3141.1,"h":71.3},{"s":"Au","wn":3135.5,"h":64.7},{"s":"Au","wn":3130,"h":68},{"s":"Au","wn":3124.4,"h":69.7},{"s":"Au","wn":3118.9,"h":74.7},{"s":"Au","wn":3113.3,"h":71.3},{"s":"Au","wn":3107.8,"h":73},{"s":"Au","wn":3102.2,"h":69.7},{"s":"Au","wn":3096.7,"h":74.7},{"s":"Au","wn":3091.1,"h":78},{"s":"Au","wn":3080,"h":79.7},{"s":"Au","wn":3068.9,"h":76.3},{"s":"Au","wn":3057.8,"h":79.7},{"s":"Au","wn":3046.7,"h":78},{"s":"Au","wn":3035.5,"h":74.7},{"s":"Au","wn":3024.4,"h":78},{"s":"Au","wn":3013.3,"h":76.3},{"s":"Au","wn":3007.8,"h":81.3},{"s":"Au","wn":3002.2,"h":79.7}
],
"numB":[{"wn":3595,"h":291,"t":"3598"},{"wn":3400,"h":265,"t":"3425"},{"wn":3621.7,"h":171,"t":"3626"},{"wn":3250,"h":171,"t":"3258"},{"wn":3480,"h":88,"t":"3452"},{"wn":3251.7,"h":86,"t":"3225"}],
"pctB":[{"wn":3790,"h":35,"t":"0.1%"}],
"labB":[{"wn":2956.7,"h":385,"t":"Pt"},{"wn":2986.7,"h":163,"t":"Cu"},{"wn":2973.3,"h":78,"t":"Au"}],
"barB":[{"wn":3843.3,"h":12.3,"h2":80.3}],
"capB":[{"wn":3876.7,"wn2":3823.3,"h":12.3},{"wn":3876.7,"wn2":3823.3,"h":80.3}]
},
"hconcat":[
{
"width":210,"height":420,
"title":{"text":"(a)","orient":"bottom","anchor":"middle","font":"DejaVu Serif","fontSize":20,"fontWeight":"bold","offset":3},
"encoding":{
"x":{"field":"wn","type":"quantitative","scale":{"domain":[2400,2800],"reverse":true,"nice":false,"zero":false},
"axis":{"values":[2800,2700,2600,2500,2400],"format":"d","labelExpr":"datum.value % 200 == 0 ? datum.label : ''","labelOverlap":false,"labelFlush":false,"domainColor":"black","domainWidth":1.5,"tickColor":"black","tickWidth":1.5,"tickSize":-5,"labelPadding":34,"labelBaseline":"middle","labelFont":"Liberation Serif","labelFontSize":20,"title":"cm⁻¹","titleFont":"DejaVu Serif","titleFontSize":20,"titleFontWeight":"bold","titleAlign":"left","titleBaseline":"alphabetic","titleX":181,"titleY":64}},
"y":{"field":"h","type":"quantitative","scale":{"domain":[0,420],"nice":false,"zero":false},
"axis":{"title":"ΔR/R","ticks":false,"labels":false,"domain":false,"titleFont":"DejaVu Serif","titleFontSize":16,"titleFontWeight":"bold","titleAngle":270,"titleAlign":"center","titleBaseline":"alphabetic","titleX":-20,"titleY":227}}
},
"layer":[
{"data":{"name":"traceA"},"mark":{"type":"line","color":"black","strokeWidth":2},"encoding":{"detail":{"field":"s"}}},
{"data":{"name":"numA"},"mark":{"type":"text","font":"Liberation Serif","fontSize":20,"align":"center","baseline":"middle","color":"black"},"encoding":{"text":{"field":"t"}}},
{"data":{"name":"pctA"},"mark":{"type":"text","font":"Liberation Serif","fontSize":20,"align":"left","baseline":"middle","color":"black"},"encoding":{"text":{"field":"t"}}},
{"data":{"name":"labA"},"mark":{"type":"text","font":"DejaVu Serif","fontSize":17,"fontWeight":"bold","align":"left","baseline":"middle","color":"black"},"encoding":{"text":{"field":"t"}}},
{"data":{"name":"barA"},"mark":{"type":"rule","color":"black","strokeWidth":1.5},"encoding":{"y2":{"field":"h2"}}},
{"data":{"name":"capA"},"mark":{"type":"rule","color":"black","strokeWidth":1.5},"encoding":{"x2":{"field":"wn2"}}}
]
},
{
"width":300,"height":420,
"title":{"text":"(b)","orient":"bottom","anchor":"middle","font":"DejaVu Serif","fontSize":20,"fontWeight":"bold","offset":11},
"encoding":{
"x":{"field":"wn","type":"quantitative","scale":{"domain":[3000,4000],"reverse":true,"nice":false,"zero":false},
"axis":{"values":[4000,3750,3500,3250,3000],"format":"d","labelOverlap":false,"labelFlush":false,"domainColor":"black","domainWidth":1.5,"tickColor":"black","tickWidth":1.5,"tickSize":-5,"labelPadding":37,"labelBaseline":"middle","labelFont":"Liberation Serif","labelFontSize":20,"title":"cm⁻¹","titleFont":"DejaVu Serif","titleFontSize":19,"titleFontWeight":"bold","titleAlign":"left","titleBaseline":"alphabetic","titleX":282,"titleY":62}},
"y":{"field":"h","type":"quantitative","scale":{"domain":[0,420],"nice":false,"zero":false},
"axis":{"title":"ΔR/R","ticks":false,"labels":false,"domain":false,"titleFont":"DejaVu Serif","titleFontSize":16,"titleFontWeight":"bold","titleAngle":270,"titleAlign":"center","titleBaseline":"alphabetic","titleX":-15,"titleY":232}}
},
"layer":[
{"data":{"name":"traceB"},"mark":{"type":"line","color":"black","strokeWidth":2},"encoding":{"detail":{"field":"s"}}},
{"data":{"name":"numB"},"mark":{"type":"text","font":"Liberation Serif","fontSize":20,"align":"center","baseline":"middle","color":"black"},"encoding":{"text":{"field":"t"}}},
{"data":{"name":"pctB"},"mark":{"type":"text","font":"Liberation Serif","fontSize":20,"align":"left","baseline":"middle","color":"black"},"encoding":{"text":{"field":"t"}}},
{"data":{"name":"labB"},"mark":{"type":"text","font":"DejaVu Serif","fontSize":16,"fontWeight":"bold","align":"left","baseline":"middle","color":"black"},"encoding":{"text":{"field":"t"}}},
{"data":{"name":"barB"},"mark":{"type":"rule","color":"black","strokeWidth":1.5},"encoding":{"y2":{"field":"h2"}}},
{"data":{"name":"capB"},"mark":{"type":"rule","color":"black","strokeWidth":1.5},"encoding":{"x2":{"field":"wn2"}}}
]
}
]
}
